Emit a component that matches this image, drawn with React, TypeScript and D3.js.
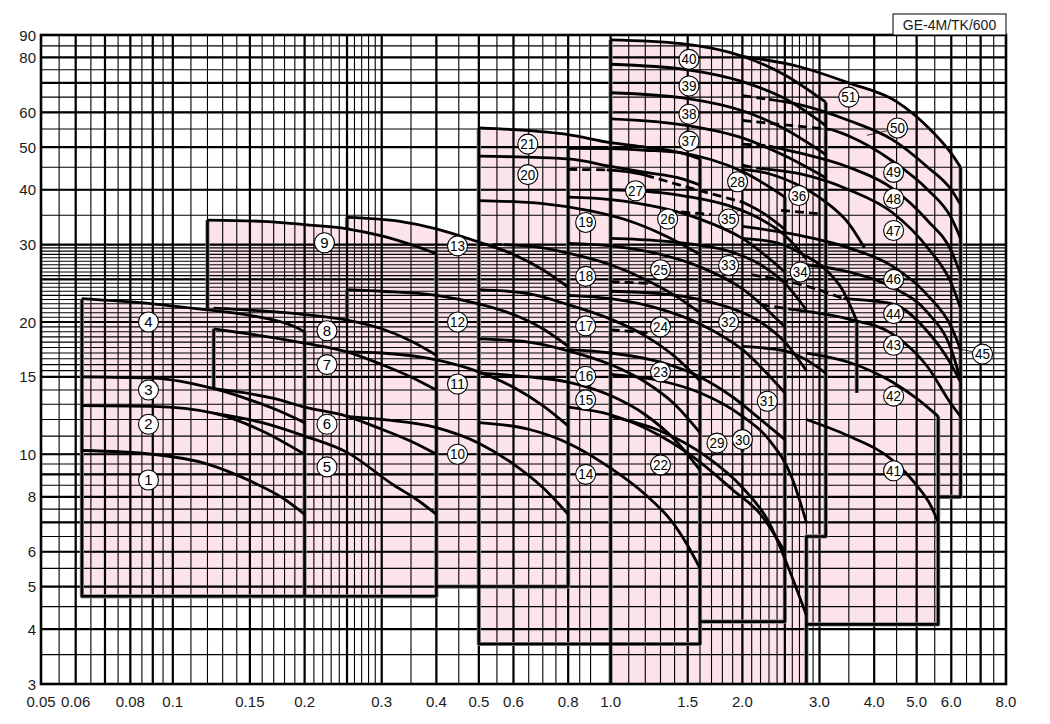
import React from "react";
import * as d3 from "d3";

type Pt = [number, number];
type Curve = { no: number; pts: Pt[] };

// ---------- axis tick labels ----------
const xTickValues = [0.05, 0.06, 0.08, 0.1, 0.15, 0.2, 0.3, 0.4, 0.5, 0.6, 0.8, 1.0, 1.5, 2.0, 3.0, 4.0, 5.0, 6.0, 8.0];
const xTickText = ["0.05", "0.06", "0.08", "0.1", "0.15", "0.2", "0.3", "0.4", "0.5", "0.6", "0.8", "1.0", "1.5", "2.0", "3.0", "4.0", "5.0", "6.0", "8.0"];
const yTickValues = [3, 4, 5, 6, 8, 10, 15, 20, 30, 40, 50, 60, 80, 90];
const xMajorGrid = [0.06, 0.07, 0.08, 0.09, 0.1, 0.15, 0.2, 0.25, 0.3, 0.4, 0.5, 0.6, 0.8, 1.0, 1.5, 2.0, 2.5, 3.0, 4.0, 5.0, 6.0, 7.0];
const yMajorGrid = [4, 5, 6, 7, 8, 9, 10, 15, 20, 25, 30, 40, 50, 60, 70, 80];

// ---------- pump curves (Q, H) ----------
const familyA: Curve[] = [
  { no: 1, pts: [[0.062, 10.2], [0.09, 10.0], [0.12, 9.5], [0.15, 8.7], [0.18, 7.9], [0.2, 7.3]] },
  { no: 2, pts: [[0.062, 12.9], [0.09, 12.85], [0.124, 12.4], [0.16, 11.3], [0.2, 10.0]] },
  { no: 3, pts: [[0.062, 15.0], [0.09, 14.9], [0.124, 14.1], [0.15, 13.3], [0.18, 12.4], [0.2, 11.8]] },
  { no: 4, pts: [[0.062, 22.6], [0.09, 22.0], [0.12, 21.3], [0.15, 20.7], [0.19, 19.5], [0.2, 19.0]] },
];
const familyB: Curve[] = [
  { no: 5, pts: [[0.124, 12.4], [0.16, 11.8], [0.2, 11.0], [0.25, 10.1], [0.32, 8.5], [0.36, 7.9], [0.4, 7.3]] },
  { no: 6, pts: [[0.124, 14.1], [0.17, 13.4], [0.2, 12.8], [0.25, 12.2], [0.3, 11.4], [0.35, 10.7], [0.4, 10.0]] },
  { no: 7, pts: [[0.124, 19.3], [0.165, 18.5], [0.2, 17.9], [0.25, 17.1], [0.3, 16.0], [0.35, 15.0], [0.4, 14.0]] },
  { no: 8, pts: [[0.124, 21.5], [0.2, 20.8], [0.25, 20.2], [0.3, 19.3], [0.35, 18.1], [0.4, 16.8]] },
  { no: 9, pts: [[0.12, 34.1], [0.16, 33.9], [0.2, 33.3], [0.25, 32.6], [0.3, 31.4], [0.35, 30.0], [0.4, 28.6]] },
];
const familyC: Curve[] = [
  { no: 10, pts: [[0.25, 12.2], [0.3, 12.0], [0.4, 11.5], [0.5, 10.6], [0.6, 9.5], [0.7, 8.4], [0.8, 7.3]] },
  { no: 11, pts: [[0.25, 17.1], [0.3, 17.0], [0.4, 16.4], [0.5, 15.4], [0.6, 14.2], [0.7, 12.9], [0.8, 11.6]] },
  { no: 12, pts: [[0.25, 23.7], [0.3, 23.5], [0.4, 23.0], [0.5, 22.0], [0.6, 20.8], [0.7, 19.3], [0.8, 17.6]] },
  { no: 13, pts: [[0.25, 34.6], [0.33, 33.9], [0.4, 32.6], [0.5, 30.4], [0.6, 28.5], [0.7, 26.3], [0.8, 24.0]] },
];
const familyD: Curve[] = [
  { no: 14, pts: [[0.5, 11.8], [0.65, 11.4], [0.8, 10.6], [1.0, 9.3], [1.2, 8.1], [1.4, 6.9], [1.5, 6.2], [1.6, 5.5]] },
  { no: 15, pts: [[0.5, 15.3], [0.65, 15.0], [0.8, 14.6], [1.0, 13.6], [1.2, 12.3], [1.4, 10.8], [1.6, 9.2]] },
  { no: 16, pts: [[0.5, 18.3], [0.65, 18.0], [0.8, 17.2], [1.0, 16.0], [1.2, 14.6], [1.4, 13.0], [1.6, 11.2]] },
  { no: 17, pts: [[0.5, 23.7], [0.65, 23.2], [0.8, 21.9], [1.0, 20.3], [1.2, 18.6], [1.4, 16.7], [1.6, 14.7]] },
  { no: 18, pts: [[0.57, 30.0], [0.7, 29.5], [0.8, 28.7], [1.0, 27.0], [1.2, 25.0], [1.4, 23.0], [1.6, 21.0]] },
  { no: 19, pts: [[0.5, 37.8], [0.7, 37.2], [0.9, 35.8], [1.1, 34.0], [1.3, 31.8], [1.6, 28.5]] },
  { no: 20, pts: [[0.5, 47.7], [0.8, 47.0], [1.0, 45.2], [1.2, 43.8], [1.45, 42.4], [1.6, 41.0]] },
  { no: 21, pts: [[0.5, 55.3], [0.6, 54.8], [0.8, 53.4], [1.0, 51.2], [1.2, 50.0], [1.45, 48.5], [1.6, 47.0]] },
];
const familyE: Curve[] = [
  { no: 22, pts: [[0.8, 12.8], [1.0, 12.3], [1.3, 11.0], [1.6, 9.6], [1.9, 8.3], [2.2, 7.3], [2.5, 6.0]] },
  { no: 23, pts: [[0.8, 17.3], [1.0, 17.0], [1.3, 16.2], [1.6, 15.0], [1.9, 13.5], [2.2, 12.0], [2.5, 10.8]] },
  { no: 24, pts: [[0.8, 23.0], [1.0, 22.6], [1.3, 21.4], [1.6, 19.8], [2.0, 17.3], [2.5, 13.8]] },
  { no: 25, pts: [[0.8, 30.2], [1.0, 29.8], [1.3, 28.5], [1.6, 26.7], [2.0, 23.8], [2.5, 19.5]] },
  { no: 26, pts: [[0.8, 38.5], [1.0, 38.0], [1.3, 36.4], [1.6, 34.3], [2.0, 31.0], [2.5, 26.0]] },
  { no: 27, pts: [[0.98, 44.4], [1.1, 43.9], [1.2, 43.2]] },
  { no: 27, pts: [[2.0, 37.5], [2.25, 35.2], [2.5, 32.5]] },
  { no: 28, pts: [[0.8, 49.7], [1.0, 49.6], [1.2, 49.2], [1.45, 48.5], [1.7, 46.8], [2.0, 44.0], [2.5, 38.5]] },
];
const familyF: Curve[] = [
  { no: 29, pts: [[1.0, 12.2], [1.3, 11.3], [1.65, 9.9], [2.0, 8.4], [2.3, 7.0], [2.55, 5.5], [2.8, 4.3]] },
  { no: 30, pts: [[1.0, 15.2], [1.3, 14.7], [1.6, 13.8], [2.0, 12.2], [2.3, 10.8], [2.6, 8.8], [2.8, 7.0]] },
  { no: 32, pts: [[1.0, 23.5], [1.3, 23.2], [1.6, 22.5], [1.86, 21.6], [2.2, 20.0], [2.5, 18.0], [2.8, 15.5]] },
  { no: 33, pts: [[1.0, 31.0], [1.3, 30.6], [1.6, 29.9], [1.86, 29.0], [2.2, 27.0], [2.5, 24.5], [2.8, 21.3]] },
  { no: 35, pts: [[1.0, 40.0], [1.3, 39.4], [1.5, 38.6], [1.86, 36.8], [2.2, 34.3], [2.5, 31.5], [2.8, 27.8]] },
  { no: 37, pts: [[1.0, 58.0], [1.5, 56.0], [2.0, 52.5], [2.5, 47.8], [3.1, 42.6]] },
  { no: 38, pts: [[1.0, 66.5], [1.5, 64.5], [2.0, 60.5], [2.5, 55.0], [3.1, 48.1]] },
  { no: 39, pts: [[1.0, 77.2], [1.5, 75.0], [2.0, 70.5], [2.5, 64.5], [3.1, 56.0]] },
  { no: 40, pts: [[1.0, 87.7], [1.45, 86.0], [2.0, 80.5], [2.5, 73.0], [3.1, 63.3]] },
];
const familyG: Curve[] = [
  { no: 31, pts: [[2.0, 17.6], [2.5, 17.2], [2.8, 16.4], [3.1, 15.3]] },
  { no: 34, pts: [[2.0, 31.0], [2.4, 30.3], [2.7, 28.8], [3.1, 26.3], [3.4, 23.5], [3.65, 20.1]] },
  { no: 36, pts: [[2.0, 44.5], [2.3, 43.5], [2.65, 41.2], [3.1, 37.5], [3.5, 33.5], [3.8, 29.5]] },
];
const familyH: Curve[] = [
  { no: 41, pts: [[2.8, 12.0], [3.5, 11.0], [4.4, 9.7], [5.0, 8.5], [5.4, 7.6], [5.6, 7.0]] },
  { no: 42, pts: [[2.8, 17.0], [3.5, 16.2], [4.4, 14.6], [5.0, 13.4], [5.6, 12.2]] },
  { no: 45, pts: [[2.8, 27.0], [3.5, 26.0], [4.4, 24.0], [5.3, 21.0], [6.0, 17.3], [6.3, 14.8]] },
];
const familyI: Curve[] = [
  { no: 43, pts: [[2.65, 21.3], [3.5, 20.3], [4.4, 18.8], [5.3, 15.8], [6.0, 13.0], [6.3, 12.2]] },
  { no: 44, pts: [[3.4, 22.6], [4.4, 22.0], [5.3, 19.0], [6.0, 16.0], [6.3, 14.6]] },
  { no: 46, pts: [[2.0, 33.0], [2.7, 31.5], [3.5, 29.5], [4.4, 26.8], [5.3, 23.0], [6.0, 19.5], [6.3, 17.3]] },
  { no: 47, pts: [[2.15, 44.8], [2.7, 43.5], [3.5, 40.0], [4.4, 35.5], [5.3, 29.5], [6.0, 24.5], [6.3, 21.5]] },
  { no: 48, pts: [[2.3, 50.3], [2.7, 48.5], [3.5, 45.0], [4.4, 40.3], [5.3, 34.0], [6.0, 29.0], [6.3, 25.7]] },
  { no: 49, pts: [[3.2, 54.8], [3.5, 53.0], [4.4, 46.5], [5.3, 40.0], [6.0, 34.5], [6.3, 31.0]] },
  { no: 50, pts: [[2.3, 64.2], [2.7, 62.5], [3.5, 57.5], [4.4, 52.0], [5.3, 45.0], [6.0, 40.0], [6.3, 37.0]] },
  { no: 51, pts: [[2.0, 80.5], [2.7, 76.2], [3.5, 70.0], [4.5, 63.5], [5.3, 55.6], [6.0, 48.4], [6.3, 45.0]] },
];

// dashed curve portions
const dashedLines: Pt[][] = [
  [[0.5, 30.0], [0.57, 30.0]],
  [[0.8, 44.5], [0.98, 44.4]],
  [[1.0, 24.7], [1.22, 24.5]],
  [[1.0, 19.2], [1.22, 18.9]],
  [[1.2, 43.2], [1.6, 39.8], [2.0, 37.5]],
  [[1.45, 35.6], [1.7, 35.1]],
  [[2.0, 65.5], [2.3, 64.2]],
  [[2.0, 57.5], [3.2, 54.8]],
  [[2.0, 50.8], [2.3, 50.3]],
  [[2.0, 45.5], [2.15, 44.8]],
  [[2.45, 35.9], [3.05, 35.2]],
  [[2.1, 25.6], [2.9, 23.9], [3.4, 22.6]],
  [[2.2, 21.9], [2.65, 21.3]],
];

// operating-range boxes: top curve + bottom corners (right to left)
const rangeTops: Pt[][] = [
  familyA[3].pts, familyB[4].pts, familyC[3].pts, familyD[7].pts,
  familyE[7].pts, familyF[8].pts, familyH[1].pts, familyI[7].pts,
];
const rangeBottoms: Pt[][] = [
  [[0.2, 4.75], [0.062, 4.75]],
  [[0.4, 4.75], [0.12, 4.75]],
  [[0.8, 5.0], [0.25, 5.0]],
  [[1.6, 3.7], [0.5, 3.7]],
  [[2.5, 4.16], [0.8, 4.16]],
  [[3.1, 6.5], [2.8, 6.5], [2.8, 2.9], [1.0, 2.9]],
  [[5.6, 4.1], [2.8, 4.1]],
  [[6.3, 8.0], [2.0, 8.0]],
];
const boxEdges: Pt[][] = [
  [[0.062, 22.6], [0.062, 4.75], [0.4, 4.75], [0.4, 28.6]],
  [[0.2, 19.0], [0.2, 4.75]],
  [[0.12, 21.3], [0.12, 34.1]],
  [[0.124, 19.3], [0.124, 14.1]],
  [[0.25, 34.6], [0.25, 32.6]],
  [[0.25, 23.7], [0.25, 20.2]],
  [[0.4, 5.0], [0.8, 5.0], [0.8, 49.7]],
  [[0.5, 55.3], [0.5, 3.7], [1.6, 3.7], [1.6, 47.0]],
  [[1.6, 4.16], [2.5, 4.16], [2.5, 38.5]],
  [[1.0, 87.7], [1.0, 2.9]],
  [[2.8, 2.9], [2.8, 6.5], [3.1, 6.5], [3.1, 63.3]],
  [[2.0, 17.6], [2.0, 10.1]],
  [[2.8, 4.1], [5.6, 4.1], [5.6, 12.2]],
  [[5.6, 8.0], [6.3, 8.0], [6.3, 45.0]],
  [[3.65, 20.1], [3.65, 13.8]],
];

// curve number labels
const labelNos = [1, 2, 3, 4, 5, 6, 7, 8, 9, 10, 11, 12, 13, 14, 15, 16, 17, 18, 19, 20, 21, 22, 23, 24, 25, 26, 27, 28, 29, 30, 31, 32, 33, 34, 35, 36, 37, 38, 39, 40, 41, 42, 43, 44, 45, 46, 47, 48, 49, 50, 51];
const labelQ = [0.088, 0.088, 0.088, 0.088, 0.225, 0.225, 0.225, 0.225, 0.222, 0.447, 0.447, 0.447, 0.447, 0.877, 0.877, 0.877, 0.877, 0.877, 0.877, 0.647, 0.647, 1.3, 1.3, 1.3, 1.3, 1.35, 1.14, 1.95, 1.75, 2.0, 2.28, 1.86, 1.86, 2.71, 1.86, 2.69, 1.51, 1.51, 1.51, 1.51, 4.43, 4.43, 4.43, 4.43, 7.07, 4.43, 4.43, 4.43, 4.43, 4.52, 3.5];
const labelH = [8.74, 11.7, 14.0, 20.0, 9.36, 11.7, 16.0, 19.1, 30.3, 10.0, 14.45, 20.0, 29.8, 9.0, 13.3, 15.05, 19.6, 25.4, 33.7, 43.3, 50.8, 9.46, 15.4, 19.5, 26.3, 34.3, 39.8, 41.7, 10.6, 10.8, 13.2, 20.0, 26.9, 26.0, 34.3, 38.8, 51.6, 59.4, 68.9, 79.2, 9.17, 13.56, 17.7, 20.9, 16.9, 25.0, 32.3, 38.2, 43.8, 55.3, 65.0];
// leader lines from labels to their curves
const leaders: Pt[][] = [
  [[1.8, 10.2], [1.65, 9.75]],
  [[1.9, 35.0], [1.98, 36.2]],
  [[6.75, 17.1], [6.0, 17.5]],
  [[4.35, 54.7], [3.85, 53.2]],
];

const W = 1050, H = 724;
const x = d3.scaleLog().domain([0.05, 8]).range([41, 1006]);
const y = d3.scaleLog().domain([3, 90]).range([684, 35]);

const lineMono = d3.line<Pt>().x(d => x(d[0])).y(d => y(d[1])).curve(d3.curveMonotoneX);
const lineLin = d3.line<Pt>().x(d => x(d[0])).y(d => y(d[1]));

function gridX(): number[] {
  const v: number[] = [];
  d3.range(0.05, 0.1, 0.005).forEach(d => v.push(+d.toFixed(3)));
  d3.range(0.1, 0.3, 0.01).forEach(d => v.push(+d.toFixed(3)));
  d3.range(0.3, 0.91, 0.05).forEach(d => v.push(+d.toFixed(3)));
  d3.range(1.0, 3.0, 0.1).forEach(d => v.push(+d.toFixed(2)));
  d3.range(3.0, 8.0, 0.5).forEach(d => v.push(+d.toFixed(2)));
  return v;
}
function gridY(): number[] {
  const v: number[] = [];
  d3.range(3, 10, 0.5).forEach(d => v.push(d));
  d3.range(10, 15, 1).forEach(d => v.push(d));
  d3.range(15, 30, 0.5).forEach(d => v.push(d));
  d3.range(30, 90, 5).forEach(d => v.push(d));
  return v;
}

const allCurves: Curve[] = [...familyA, ...familyB, ...familyC, ...familyD, ...familyE, ...familyF, ...familyG, ...familyH, ...familyI];

export default function App() {
  const [x0, x1] = x.range();
  const [y0, y1] = y.range();
  const font = "'Liberation Sans', Arial, Helvetica, sans-serif";
  return (
    <svg width={W} height={H} style={{ position: "absolute", left: 0, top: 0, background: "#fff" }}>
      <defs>
        <clipPath id="plot">
          <rect x={x0} y={y1} width={x1 - x0} height={y0 - y1} />
        </clipPath>
      </defs>
      <g clipPath="url(#plot)">
        {rangeTops.map((top, i) => (
          <path key={"r" + i}
            d={lineMono(top) + rangeBottoms[i].map(p => `L${x(p[0])},${y(p[1])}`).join("") + "Z"}
            fill="#fce3e9" stroke="none" />
        ))}
      </g>
      {/* grid */}
      <g stroke="#000">
        {gridX().map((v, i) => (
          <line key={"gx" + i} x1={x(v)} x2={x(v)} y1={y1} y2={y0} strokeWidth={1.1} />
        ))}
        {xMajorGrid.map((v, i) => (
          <line key={"gX" + i} x1={x(v)} x2={x(v)} y1={y1} y2={y0} strokeWidth={2.2} />
        ))}
        {gridY().map((v, i) => (
          <line key={"gy" + i} x1={x0} x2={x1} y1={y(v)} y2={y(v)} strokeWidth={1.1} />
        ))}
        {yMajorGrid.map((v, i) => (
          <line key={"gY" + i} x1={x0} x2={x1} y1={y(v)} y2={y(v)} strokeWidth={2.2} />
        ))}
      </g>
      <g clipPath="url(#plot)" fill="none" strokeLinejoin="round">
        {boxEdges.map((e, i) => (
          <path key={"es" + i} d={lineLin(e) || ""} stroke="#8a8a8a" strokeWidth={4.2} />
        ))}
        {boxEdges.map((e, i) => (
          <path key={"e" + i} d={lineLin(e) || ""} stroke="#000" strokeWidth={2.6} />
        ))}
        {allCurves.map((c, i) => (
          <path key={"c" + i} d={lineMono(c.pts) || ""} stroke="#000" strokeWidth={2.8} strokeLinecap="butt" />
        ))}
        {dashedLines.map((c, i) => (
          <path key={"d" + i} d={lineMono(c) || ""} stroke="#000" strokeWidth={2.8} strokeDasharray="9,5" />
        ))}
        {leaders.map((c, i) => (
          <path key={"l" + i} d={lineLin(c) || ""} stroke="#000" strokeWidth={0.8} />
        ))}
      </g>
      <rect x={x0} y={y1} width={x1 - x0} height={y0 - y1} fill="none" stroke="#000" strokeWidth={2.6} />
      {/* labels */}
      <g fontFamily={font}>
        {labelNos.map((n, i) => (
          <g key={"lb" + n} transform={`translate(${x(labelQ[i])},${y(labelH[i])})`}>
            <circle r={10} fill="#fff" stroke="#000" strokeWidth={1.1} />
            <text textAnchor="middle" dy="5" fontSize={n >= 10 ? 14 : 15}
              textLength={n >= 10 ? 15 : undefined} lengthAdjust="spacingAndGlyphs" fill="#000">{n}</text>
          </g>
        ))}
      </g>
      {/* axis labels */}
      <g fontFamily={font} fontSize={15} fill="#1a1a1a">
        {yTickValues.map(v => (
          <text key={"yt" + v} x={36} y={y(v) + 5.5} textAnchor="end">{v}</text>
        ))}
        {xTickValues.map((v, i) => (
          <text key={"xt" + i} x={x(v)} y={707} textAnchor="middle">{xTickText[i]}</text>
        ))}
      </g>
      <rect x={893} y={14} width={113} height={21} fill="#fff" stroke="#000" strokeWidth={1} />
      <text x={949.5} y={30} textAnchor="middle" fontFamily={font} fontSize={14} fill="#1a1a1a">GE-4M/TK/600</text>
    </svg>
  );
}
